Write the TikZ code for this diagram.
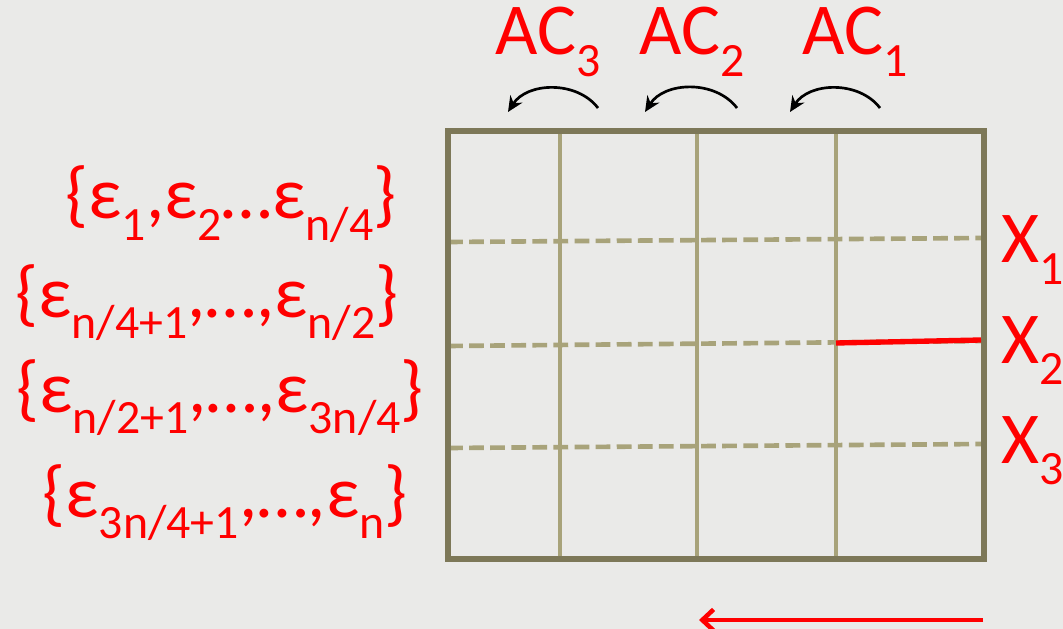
\documentclass[tikz,border=0pt]{standalone}
\usepackage{fontspec}
\setmainfont{Carlito}
\usetikzlibrary{arrows.meta,positioning}
\definecolor{slidered}{RGB}{255,0,0}
\definecolor{gridolive}{RGB}{125,120,88}
\definecolor{gridkhaki}{RGB}{168,163,122}
\definecolor{paper}{RGB}{234,234,232}
\newcommand{\lowsub}[1]{\raisebox{-0.3em}{\fontsize{34}{34}\selectfont #1}}
\tikzset{
  redlabel/.style={text=slidered, font=\fontsize{52}{60}\selectfont, inner sep=0pt, anchor=base},
  framerule/.style={draw=gridolive, line width=4pt},
  colrule/.style={draw=gridkhaki, line width=3.3pt},
  rowrule/.style={draw=gridkhaki, line width=3.3pt, dash pattern=on 10.5pt off 4.5pt},
  shiftarrow/.style={-{Stealth[length=11pt,width=10pt]}, line width=1.9pt, bend right=55},
}
\begin{document}
\begin{tikzpicture}[x=0.025cm,y=-0.025cm]
\fill[paper] (0,0) rectangle (1063,629);
\useasboundingbox (0,0) rectangle (1063,629);

\coordinate (nw) at (448,131);
\coordinate (se) at (984,559);
\foreach \cx in {560,697,836} \draw[colrule] (\cx,131) -- (\cx,559);
\draw[rowrule] (448,242) -- (984,238);
\draw[rowrule] (448,346) -- (984,341);
\draw[rowrule] (448,448) -- (984,444);
\draw[framerule] (nw) rectangle (se);
\coordinate (mark-l) at (836,343);
\coordinate (mark-r) at (981,340);
\draw[slidered, line width=3.8pt] (mark-l) -- (mark-r);

\node[redlabel] (ac3) at (548,55) {AC\lowsub{3}};
\node[redlabel] (ac2) at (692,55) {AC\lowsub{2}};
\node[redlabel] (ac1) at (855,55) {AC\lowsub{1}};
\coordinate (ac3-from) at (598,108);
\coordinate (ac3-to) at (508,112);
\coordinate (ac2-from) at (737,108);
\coordinate (ac2-to) at (645,112);
\coordinate (ac1-from) at (880,108);
\coordinate (ac1-to) at (790,112);
\draw[shiftarrow] (ac3-from) to (ac3-to);
\draw[shiftarrow] (ac2-from) to (ac2-to);
\draw[shiftarrow] (ac1-from) to (ac1-to);

\node[redlabel] (eps1) at (231,219) {\{ε\lowsub{1},ε\lowsub{2}…ε\lowsub{n/4}\}};
\node[redlabel] (eps2) at (207,317) {\{ε\lowsub{n/4+1},…,ε\lowsub{n/2}\}};
\node[redlabel] (eps3) at (220,412) {\{ε\lowsub{n/2+1},…,ε\lowsub{3n/4}\}};
\node[redlabel] (eps4) at (225,517) {\{ε\lowsub{3n/4+1},…,ε\lowsub{n}\}};

\node[redlabel, anchor=base west] (x1) at (1001,263) {X\lowsub{1}};
\node[redlabel, anchor=base west] (x2) at (1001,363) {X\lowsub{2}};
\node[redlabel, anchor=base west] (x3) at (1001,463) {X\lowsub{3}};

\coordinate (sweep-r) at (983,620);
\coordinate (sweep-l) at (699,620);
\draw[slidered, line width=3.2pt, -{Straight Barb[length=8pt,width=15pt]}] (sweep-r) -- (sweep-l);
\end{tikzpicture}
\end{document}
